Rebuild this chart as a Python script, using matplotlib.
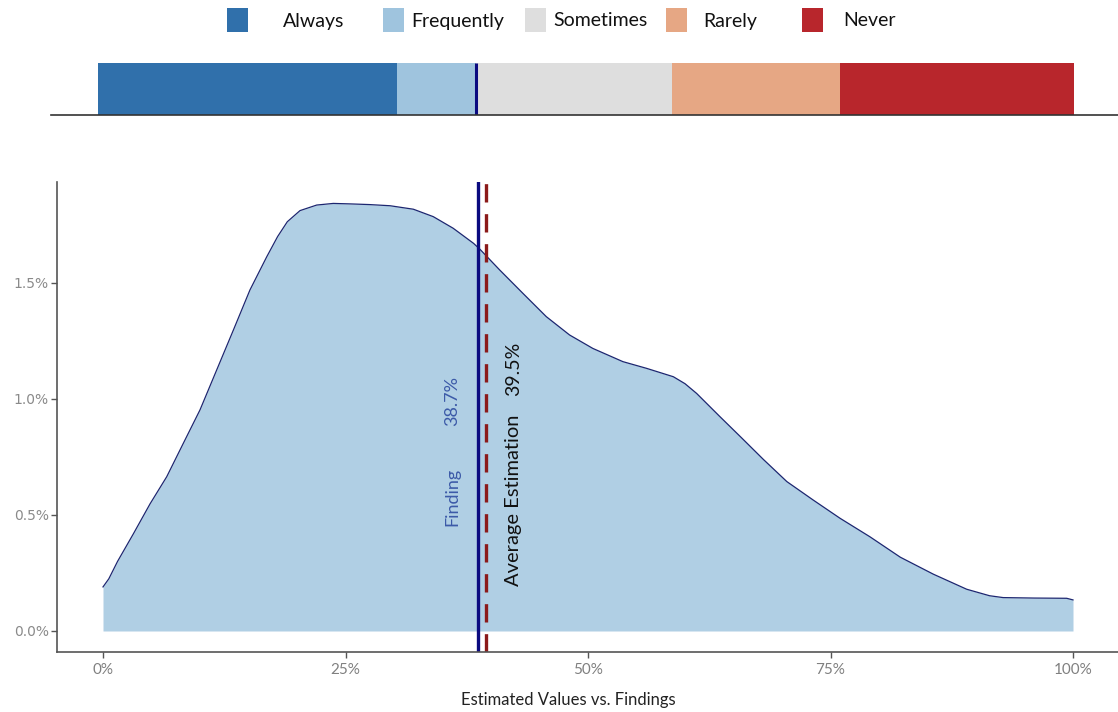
import numpy as np
import matplotlib
matplotlib.use("Agg")
import matplotlib.pyplot as plt
from matplotlib.patches import Rectangle

# frequency bar (share of answers, %)
categories = ["Always", "Frequently", "Sometimes", "Rarely", "Never"]
shares = [30.6, 8.1, 20.1, 17.2, 24.0]
colors = ["#3070ab", "#9fc4de", "#dedede", "#e6a784", "#b8262c"]

# density of estimated values (x in %, density in %)
x_vals = [0, 0.6, 1.5, 3.12, 4.85, 6.57, 8.28, 10.0, 11.72, 13.44, 15.15, 16.88,
          18.0, 19.0, 20.31, 22.03, 23.74, 25.46, 27.5, 29.6, 32.0, 34.05, 36.1,
          38.2, 38.87, 40.9, 43.3, 45.7, 48.1, 50.5, 53.6, 56.05, 58.8, 60.0,
          61.2, 63.6, 65.8, 68.07, 70.5, 73.2, 75.98, 79.07, 82.2, 85.6, 89.04,
          91.4, 92.8, 96.0, 99.35, 100]
density = [0.19, 0.225, 0.30, 0.418, 0.548, 0.665, 0.809, 0.953, 1.125, 1.297,
           1.470, 1.613, 1.70, 1.764, 1.812, 1.836, 1.843, 1.841, 1.838, 1.833,
           1.818, 1.786, 1.736, 1.671, 1.645, 1.556, 1.455, 1.355, 1.276, 1.218,
           1.161, 1.132, 1.096, 1.066, 1.024, 0.924, 0.834, 0.740, 0.644, 0.565,
           0.486, 0.406, 0.318, 0.245, 0.180, 0.152, 0.144, 0.142, 0.141, 0.134]

finding = 38.7
average = 39.5

x_ticks = [0, 25, 50, 75, 100]
y_ticks = [0.0, 0.5, 1.0, 1.5]

W, H = 1118, 712
fig = plt.figure(figsize=(W / 100, H / 100), dpi=100)
fig.patch.set_facecolor("white")

def px_box(left, top, right, bottom):
    return [left / W, 1 - bottom / H, (right - left) / W, (bottom - top) / H]

# ---- legend (manual) ----
sq_left = [227, 383, 525, 666, 802]
txt_left = [283, 411, 553, 703, 843]
for lab, col, sx, tx in zip(categories, colors, sq_left, txt_left):
    fig.patches.append(Rectangle((sx / W, 1 - 32 / H), 21 / W, 24 / H,
                                 transform=fig.transFigure, facecolor=col,
                                 edgecolor="none"))
    fig.text(tx / W, 1 - 21 / H, lab, fontsize=14, family="Lato",
             va="center", ha="left", color="#111111")

# ---- stacked bar ----
axb = fig.add_axes(px_box(51, 63, 1118, 115))
left = 0
for val, col in zip(shares, colors):
    axb.barh(0.5, val, left=left, height=1.0, color=col, edgecolor="none")
    left += val
axb.plot([finding, finding], [0, 1], color="#0b0b80", lw=2.2, solid_capstyle="butt")
axb.set_xlim(-(98 - 51) / 9.76, (1118 - 98) / 9.76)
axb.set_ylim(0, 1)
for s in ["top", "left", "right"]:
    axb.spines[s].set_visible(False)
axb.spines["bottom"].set_color("#333333")
axb.spines["bottom"].set_linewidth(1.2)
axb.set_xticks([])
axb.set_yticks([])

# ---- density plot ----
ax = fig.add_axes(px_box(57, 182, 1118, 652))
ax.fill_between(x_vals, 0, density, color="#b0cfe4", lw=0)
ax.plot(x_vals, density, color="#1c2670", lw=0.9)
ax.axvline(finding, color="#0b0b80", lw=2.4)
ax.axvline(average, color="#8b1a1a", lw=2.4, ls=(0, (5.5, 3.5)))

ax.text(35.98, 0.58, "Finding", rotation=90, color="#3c5aa8", fontsize=13,
        family="Lato", ha="center", va="center")
ax.text(35.98, 0.99, "38.7%", rotation=90, color="#3c5aa8", fontsize=13,
        family="Lato", ha="center", va="center")
ax.text(42.37, 0.565, "Average Estimation", rotation=90, color="#111111",
        fontsize=14.5, family="Lato", ha="center", va="center")
ax.text(42.37, 1.13, "39.5%", rotation=90, color="#111111", fontsize=14,
        family="Lato", ha="center", va="center")

ax.set_xlim(-(103 - 57) / 9.7, (1118 - 103) / 9.7)
ax.set_ylim(-21 / 232, 449 / 232)
ax.set_xticks(x_ticks)
ax.set_xticklabels([f"{t}%" for t in x_ticks], family="Lato", fontsize=11,
                   color="#808080")
ax.set_yticks(y_ticks)
ax.set_yticklabels([f"{t:.1f}%" for t in y_ticks], family="DejaVu Sans",
                   fontsize=10, color="#8a8a8a")
for s in ["top", "right"]:
    ax.spines[s].set_visible(False)
for s in ["left", "bottom"]:
    ax.spines[s].set_color("#555555")
    ax.spines[s].set_linewidth(1.2)
ax.tick_params(axis="both", color="#555555", length=4, width=1)
ax.tick_params(axis="y", pad=2)
ax.tick_params(axis="x", pad=4)

fig.text(568 / W, 1 - 700 / H, "Estimated Values vs. Findings", family="Lato",
         fontsize=12, ha="center", va="center", color="#222222")

fig.savefig("out.png", dpi=100)
